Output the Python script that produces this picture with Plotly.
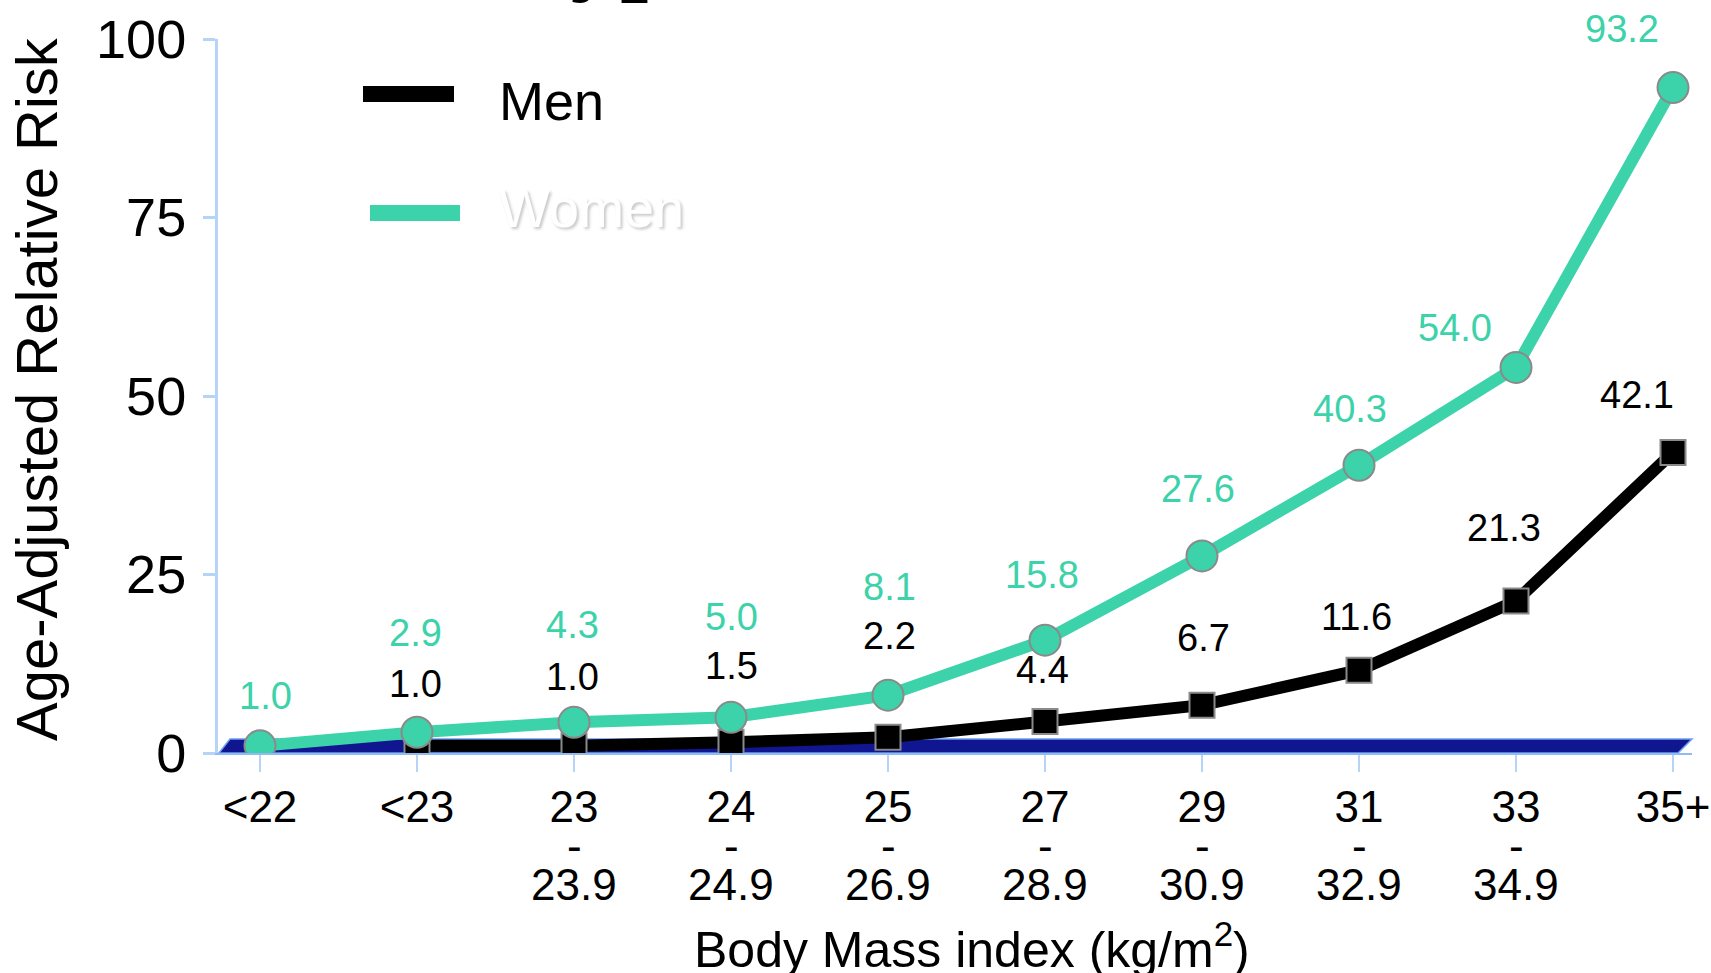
import plotly.graph_objects as go

# BMI categories (x), top and bottom lines of each tick label
CATEGORIES = ["<22", "<23", "23-23.9", "24-24.9", "25-26.9", "27-28.9",
              "29-30.9", "31-32.9", "33-34.9", "35+"]
TICK_TOP = ["<22", "<23", "23", "24", "25", "27", "29", "31", "33", "35+"]
TICK_BOTTOM = ["", "", "23.9", "24.9", "26.9", "28.9", "30.9", "32.9", "34.9", ""]

# age-adjusted relative risk
WOMEN = [1.0, 2.9, 4.3, 5.0, 8.1, 15.8, 27.6, 40.3, 54.0, 93.2]
MEN_CATS = CATEGORIES[1:]
MEN = [1.0, 1.0, 1.5, 2.2, 4.4, 6.7, 11.6, 21.3, 42.1]

Y_TICKS = [0, 25, 50, 75, 100]

# label nudges (px) so the value labels sit where the slide put them
WOMEN_SHIFT = [(5, 50), (-2, 99), (-2, 97), (0, 100), (1, 108), (-3, 65),
               (-4, 67), (-9, 56), (-61, 39), (-51, 59)]
MEN_SHIFT = [(-2, 62), (-2, 69), (0, 76), (1, 101), (-3, 52), (1, 67),
             (-3, 53), (-12, 73), (-36, 57)]

GREEN = "#3cd2aa"
AXIS_BLUE = "#b5d4f7"
FONT = "Liberation Sans, Arial, sans-serif"

W, H = 1711, 973
L, R, T, B = 218, 19, 39, 220
PW, PH = W - L - R, H - T - B


def px(x):  # pixel -> paper x
    return (x - L) / PW


def py(y):  # pixel -> paper y
    return (H - B - y) / PH


fig = go.Figure()
fig.add_trace(go.Scatter(
    x=MEN_CATS, y=MEN, name="Men", mode="lines+markers",
    line=dict(color="black", width=12),
    marker=dict(symbol="square", size=25, color="black",
                line=dict(color="#8a8a8a", width=2))))
fig.add_trace(go.Scatter(
    x=CATEGORIES, y=WOMEN, name="Women", mode="lines+markers",
    line=dict(color=GREEN, width=12),
    marker=dict(symbol="circle", size=31, color=GREEN,
                line=dict(color="#8a8a8a", width=2))))

ann = []
for c, v, (dx, dy) in zip(CATEGORIES, WOMEN, WOMEN_SHIFT):
    ann.append(dict(x=c, y=v, text=f"{v:.1f}", showarrow=False, xshift=dx, yshift=dy,
                    font=dict(size=38, color=GREEN, family=FONT)))
for c, v, (dx, dy) in zip(MEN_CATS, MEN, MEN_SHIFT):
    ann.append(dict(x=c, y=v, text=f"{v:.1f}", showarrow=False, xshift=dx, yshift=dy,
                    font=dict(size=38, color="black", family=FONT)))

# second and third lines of the x tick labels (tight line spacing)
for c, lo in zip(CATEGORIES, TICK_BOTTOM):
    if not lo:
        continue
    ann.append(dict(x=c, xref="x", y=py(845), yref="paper", text="-", showarrow=False,
                    yanchor="middle", font=dict(size=44, color="black", family=FONT)))
    ann.append(dict(x=c, xref="x", y=py(884), yref="paper", text=lo, showarrow=False,
                    yanchor="middle", font=dict(size=44, color="black", family=FONT)))

# axis titles
ann.append(dict(x=px(36), y=py(389), xref="paper", yref="paper", textangle=-90,
                text="Age-Adjusted Relative Risk", showarrow=False,
                xanchor="center", yanchor="middle",
                font=dict(size=58, color="black", family=FONT)))
ann.append(dict(x=px(972), y=py(946), xref="paper", yref="paper",
                text="Body Mass index (kg/m<sup>2</sup>)", showarrow=False,
                xanchor="center", yanchor="middle",
                font=dict(size=50, color="black", family=FONT)))

# legend (drawn by hand: long, thick swatches)
ann.append(dict(x=px(497), y=py(101), xref="paper", yref="paper", text="Men",
                showarrow=False, xanchor="left", yanchor="middle",
                font=dict(size=54, color="black", family=FONT)))
ann.append(dict(x=px(497), y=py(208), xref="paper", yref="paper", text="Women",
                showarrow=False, xanchor="left", yanchor="middle",
                font=dict(size=54, color="white", family=FONT,
                          shadow="2px 2px 3px rgba(0,0,0,0.22)")))

# slide title, cut off by the top edge
ann.append(dict(x=px(509), y=py(-52), xref="paper", yref="paper",
                text="<b>Type 2 Diabetes</b>", showarrow=False,
                xanchor="left", yanchor="middle",
                font=dict(size=100, color="black",
                          family="Liberation Serif, Times New Roman, serif")))

shapes = [
    # 3-D floor of the chart
    dict(type="path", xref="paper", yref="paper", layer="below",
         path=f"M {px(219)},{py(753)} L {px(230)},{py(739)} L {px(1692)},{py(739)} "
              f"L {px(1678)},{py(753)} Z",
         fillcolor="#10168f", line=dict(color="#6d9ff2", width=1.5)),
    dict(type="line", xref="paper", yref="paper", x0=px(363), x1=px(454),
         y0=py(94), y1=py(94), line=dict(color="black", width=16)),
    dict(type="line", xref="paper", yref="paper", x0=px(370), x1=px(460),
         y0=py(213), y1=py(213), line=dict(color=GREEN, width=16)),
]

fig.update_layout(
    width=W, height=H, margin=dict(l=L, r=R, t=T, b=B),
    paper_bgcolor="white", plot_bgcolor="white", showlegend=False,
    font=dict(family=FONT, color="black"),
    xaxis=dict(type="category", categoryorder="array", categoryarray=CATEGORIES,
               range=[-0.2675, 9.121], tickvals=CATEGORIES, ticktext=TICK_TOP,
               tickfont=dict(size=44), ticks="outside", ticklen=17, tickwidth=2,
               tickcolor=AXIS_BLUE, showline=True, linecolor="#8fbaf3", linewidth=2,
               showgrid=False, zeroline=False, ticklabelstandoff=-3, automargin=False),
    yaxis=dict(range=[0, 100], tickvals=Y_TICKS, tickfont=dict(size=54),
               ticks="outside", ticklen=12, tickwidth=3, tickcolor=AXIS_BLUE,
               showline=True, linecolor=AXIS_BLUE, linewidth=3,
               showgrid=False, zeroline=False, ticklabelstandoff=6, automargin=False),
    annotations=ann, shapes=shapes,
)

# the page's default body margin would push the figure 8px right and down
fig.write_html("out.html", config={"displayModeBar": False},
               post_script="document.body.style.margin='0';")
